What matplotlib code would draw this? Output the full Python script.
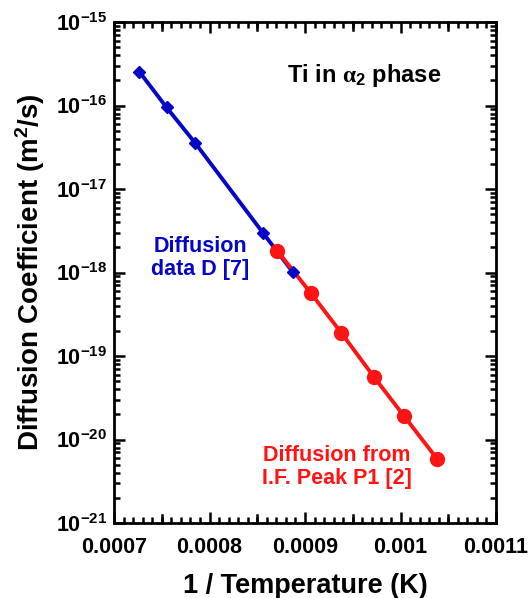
import matplotlib
matplotlib.use("Agg")
import matplotlib.pyplot as plt
from matplotlib.ticker import MultipleLocator, FixedLocator, NullFormatter, FuncFormatter
import numpy as np

plt.rcParams['font.family'] = ['Liberation Sans', 'DejaVu Sans']
plt.rcParams['font.weight'] = 'bold'
plt.rcParams['mathtext.fontset'] = 'custom'
plt.rcParams['mathtext.rm'] = 'Liberation Sans:bold'
plt.rcParams['mathtext.it'] = 'Liberation Sans:bold'
plt.rcParams['mathtext.bf'] = 'Liberation Sans:bold'
plt.rcParams['mathtext.sf'] = 'Liberation Serif'

# Data
blue_x = [0.0007265, 0.000755, 0.0007848, 0.0008563, 0.000887]
blue_y = [2.54e-16, 9.5e-17, 3.58e-17, 2.95e-18, 1.02e-18]
red_x = [0.000871, 0.0009058, 0.0009379, 0.000972, 0.0010037, 0.0010386]
red_y = [1.82e-18, 5.73e-19, 1.90e-19, 5.65e-20, 1.91e-20, 5.8e-21]
x_ticks = [0.0007, 0.0008, 0.0009, 0.001, 0.0011]
x_tick_labels = ["0.0007", "0.0008", "0.0009", "0.001", "0.0011"]
x_mid_ticks = [0.00075, 0.00085, 0.00095, 0.00105]
y_decades = [-21, -20, -19, -18, -17, -16, -15]

blue = "#0505c8"
red = "#ff1414"

fig = plt.figure(figsize=(5.28, 5.98), dpi=100)
ax = fig.add_axes([114/528, 1-523/598, (496-114)/528, (523-22)/598])

ax.plot(blue_x, blue_y, '-', color=blue, lw=2.8, zorder=2)
ax.plot(red_x, red_y, '-', color=red, lw=2.8, zorder=3)
ax.plot(red_x, red_y, 'o', color=red, ms=10, zorder=4)
ax.plot(blue_x, blue_y, 'D', color=blue, ms=6.5, zorder=5)

ax.set_yscale('log')
ax.set_xlim(0.0007, 0.0011)
ax.set_ylim(1e-21, 1e-15)

ax.xaxis.set_major_locator(FixedLocator(x_ticks))
ax.set_xticklabels(x_tick_labels)
ax.xaxis.set_minor_locator(MultipleLocator(0.00001))
ax.xaxis.set_minor_formatter(NullFormatter())

y_major = [10.0 ** d for d in y_decades]
y_minor = [m * 10.0 ** d for d in y_decades[:-1] for m in range(2, 10)]
ax.yaxis.set_major_locator(FixedLocator(y_major))
ax.yaxis.set_minor_locator(FixedLocator(y_minor))
ax.yaxis.set_minor_formatter(NullFormatter())
ax.yaxis.set_major_formatter(FuncFormatter(lambda v, p: r'$10^{%d}$' % int(round(np.log10(v)))))

ax.tick_params(which='both', direction='in', top=True, right=True, width=1.8)
ax.tick_params(which='major', length=8)
ax.tick_params(which='minor', length=4)
ax.tick_params(axis='x', which='major', labelsize=15.5, pad=10)
ax.tick_params(axis='y', which='major', labelsize=15.5, pad=5)
for s in ax.spines.values():
    s.set_linewidth(2)

# longer ticks at half-decade x positions (0.00075 ...)
for xv in x_mid_ticks:
    for yb, yt in [(0.0, 0.016), (0.984, 1.0)]:
        ax.plot([xv, xv], [yb, yt], color='black', lw=1.8,
                transform=ax.get_xaxis_transform(), clip_on=False, zorder=1)

ax.set_xlabel("1 / Temperature (K)", fontsize=19.5, fontweight='bold', labelpad=11)
ax.set_ylabel("Diffusion Coefficient (m$^2$/s)", fontsize=20, fontweight='bold', labelpad=6)

ax.text(0.000962, 2.3e-16, r"Ti in $\mathsf{\alpha}_2$ phase", fontsize=17, fontweight='bold',
        ha='center', va='center', color='black')
ax.text(0.000790, 1.5e-18, "Diffusion\ndata D [7]", fontsize=15.5, fontweight='bold',
        ha='center', va='center', color=blue, linespacing=1.1)
ax.text(0.0009335, 4.7e-21, "Diffusion from\nI.F. Peak P1 [2]", fontsize=15.5, fontweight='bold',
        ha='center', va='center', color=red, linespacing=1.1)

fig.savefig("out.png", dpi=100)
